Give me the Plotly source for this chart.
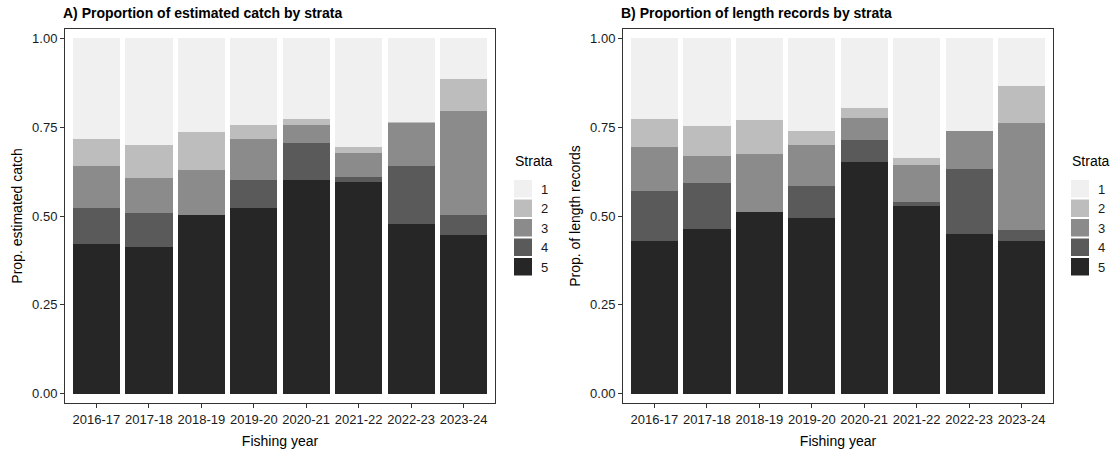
import plotly.graph_objects as go

years = ["2016-17", "2017-18", "2018-19", "2019-20", "2020-21", "2021-22", "2022-23", "2023-24"]
strata = ["1", "2", "3", "4", "5"]
strata_colors = ["#f0f0f0", "#bdbdbd", "#8b8b8b", "#5a5a5a", "#262626"]

# A) proportion of estimated catch, by stratum
catch_s1 = [0.284, 0.300, 0.265, 0.244, 0.227, 0.306, 0.235, 0.114]
catch_s2 = [0.076, 0.094, 0.107, 0.040, 0.017, 0.016, 0.002, 0.090]
catch_s3 = [0.118, 0.097, 0.126, 0.115, 0.051, 0.068, 0.121, 0.292]
catch_s4 = [0.102, 0.095, 0.000, 0.079, 0.104, 0.015, 0.164, 0.058]
catch_s5 = [0.420, 0.414, 0.502, 0.522, 0.601, 0.595, 0.478, 0.446]

# B) proportion of length records, by stratum
length_s1 = [0.228, 0.246, 0.230, 0.260, 0.196, 0.337, 0.262, 0.134]
length_s2 = [0.077, 0.086, 0.095, 0.039, 0.027, 0.019, 0.000, 0.105]
length_s3 = [0.124, 0.076, 0.164, 0.116, 0.063, 0.106, 0.107, 0.300]
length_s4 = [0.141, 0.128, 0.000, 0.090, 0.061, 0.011, 0.182, 0.031]
length_s5 = [0.430, 0.464, 0.511, 0.495, 0.653, 0.527, 0.449, 0.430]

catch = [catch_s1, catch_s2, catch_s3, catch_s4, catch_s5]
lengths = [length_s1, length_s2, length_s3, length_s4, length_s5]

W, H = 1112, 452
FONT = "Liberation Sans, Arial, sans-serif"


def px_x(x):
    return x / W


def px_y(y):
    return 1 - y / H


fig = go.Figure()

# stack from stratum 5 (bottom) up to stratum 1 (top)
for panel, data in ((("x", "y"), catch), (("x2", "y2"), lengths)):
    for i in reversed(range(len(strata))):
        fig.add_trace(go.Bar(
            x=years, y=data[i], name=strata[i],
            marker=dict(color=strata_colors[i], line=dict(width=0)),
            xaxis=panel[0], yaxis=panel[1], showlegend=False,
            width=0.9,
        ))

axis_common = dict(
    showline=True, mirror=True, linecolor="#333333", linewidth=1,
    ticks="outside", ticklen=4, tickcolor="#333333", tickwidth=1,
    showgrid=False, zeroline=False,
    tickfont=dict(family=FONT, size=13, color="#1a1a1a"),
)
ytick = dict(tickvals=[0, 0.25, 0.5, 0.75, 1.0],
             ticktext=["0.00", "0.25", "0.50", "0.75", "1.00"],
             range=[-0.026, 1.026])
title_font = dict(family=FONT, size=14, color="#000000")

fig.update_layout(
    width=W, height=H,
    margin=dict(l=0, r=0, t=0, b=0),
    plot_bgcolor="white", paper_bgcolor="white",
    barmode="stack", bargap=0.1,
    xaxis=dict(domain=[px_x(65), px_x(495)], range=[-0.6, 7.6], anchor="y",
               title=dict(text="Fishing year", font=title_font, standoff=10), **axis_common),
    yaxis=dict(domain=[px_y(403), px_y(29)], anchor="x",
               title=dict(text="Prop. estimated catch", font=title_font, standoff=6),
               **ytick, **axis_common),
    xaxis2=dict(domain=[px_x(623), px_x(1053)], range=[-0.6, 7.6], anchor="y2",
                title=dict(text="Fishing year", font=title_font, standoff=10), **axis_common),
    yaxis2=dict(domain=[px_y(403), px_y(29)], anchor="x2",
                title=dict(text="Prop. of length records", font=title_font, standoff=6),
                **ytick, **axis_common),
)

annotations = [
    dict(text="<b>A) Proportion of estimated catch by strata</b>", x=px_x(61), y=px_y(13),
         xref="paper", yref="paper", xanchor="left", yanchor="middle", showarrow=False,
         font=dict(family=FONT, size=14, color="#000000")),
    dict(text="<b>B) Proportion of length records by strata</b>", x=px_x(619), y=px_y(13),
         xref="paper", yref="paper", xanchor="left", yanchor="middle", showarrow=False,
         font=dict(family=FONT, size=14, color="#000000")),
]
shapes = []

# hand-drawn legends (ggplot-style keys)
for lx in (514, 1071):
    annotations.append(dict(text="Strata", x=px_x(lx - 1), y=px_y(161), xref="paper", yref="paper",
                            xanchor="left", yanchor="middle", showarrow=False,
                            font=dict(family=FONT, size=14, color="#000000")))
    for k, (lab, col) in enumerate(zip(strata, strata_colors)):
        top = 180 + k * 19.5
        shapes.append(dict(type="rect", xref="paper", yref="paper",
                           x0=px_x(lx), x1=px_x(lx + 18), y0=px_y(top + 17.5), y1=px_y(top),
                           fillcolor=col, line=dict(width=0)))
        annotations.append(dict(text=lab, x=px_x(lx + 25), y=px_y(top + 9), xref="paper", yref="paper",
                                xanchor="left", yanchor="middle", showarrow=False,
                                font=dict(family=FONT, size=13, color="#1a1a1a")))

fig.update_layout(annotations=annotations, shapes=shapes)

fig.write_html("out.html", config={"displayModeBar": False},
               post_script="document.body.style.margin='0';")
